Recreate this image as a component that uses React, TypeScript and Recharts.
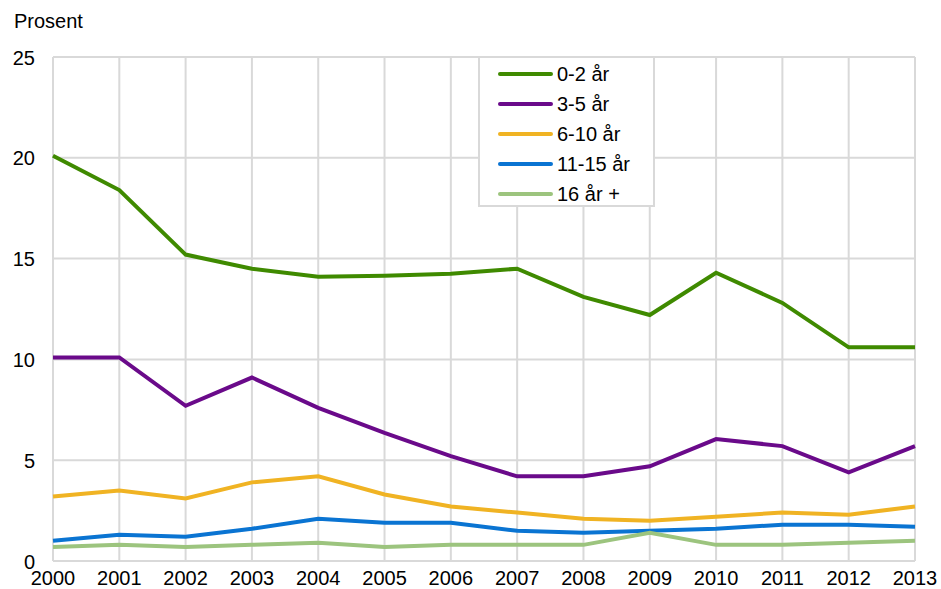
import { LineChart, Line, XAxis, YAxis, CartesianGrid, Legend } from 'recharts';

// ─── Data ───────────────────────────────────────────────────────────────────

const years = ['2000', '2001', '2002', '2003', '2004', '2005', '2006', '2007', '2008', '2009', '2010', '2011', '2012', '2013'];

const age0to2 = [20.1, 18.4, 15.2, 14.5, 14.1, 14.15, 14.25, 14.5, 13.1, 12.2, 14.3, 12.8, 10.6, 10.6];
const age3to5 = [10.1, 10.1, 7.7, 9.1, 7.6, 6.35, 5.2, 4.2, 4.2, 4.7, 6.05, 5.7, 4.4, 5.7];
const age6to10 = [3.2, 3.5, 3.1, 3.9, 4.2, 3.3, 2.7, 2.4, 2.1, 2.0, 2.2, 2.4, 2.3, 2.7];
const age11to15 = [1.0, 1.3, 1.2, 1.6, 2.1, 1.9, 1.9, 1.5, 1.4, 1.5, 1.6, 1.8, 1.8, 1.7];
const age16plus = [0.7, 0.8, 0.7, 0.8, 0.9, 0.7, 0.8, 0.8, 0.8, 1.4, 0.8, 0.8, 0.9, 1.0];

const yTicks = [0, 5, 10, 15, 20, 25];

const series = [
  { key: 'a', label: '0-2 år', color: '#3F8A00', values: age0to2 },
  { key: 'b', label: '3-5 år', color: '#6A0A8A', values: age3to5 },
  { key: 'c', label: '6-10 år', color: '#F0B323', values: age6to10 },
  { key: 'd', label: '11-15 år', color: '#0A74D2', values: age11to15 },
  { key: 'e', label: '16 år +', color: '#9CC47E', values: age16plus },
];

const data = years.map((year, i) => {
  const row: Record<string, string | number> = { year };
  series.forEach((s) => {
    row[s.key] = s.values[i];
  });
  return row;
});

const FONT = 'Arial, "Liberation Sans", Helvetica, sans-serif';

// ─── Ticks ──────────────────────────────────────────────────────────────────

function YTick({ y, payload }: { y?: number; payload?: { value: number } }) {
  return (
    <text x={35} y={(y ?? 0) + 7.5} textAnchor="end" fontSize={20} fill="#000" fontFamily={FONT}>
      {payload?.value}
    </text>
  );
}

function XTick({ x, payload }: { x?: number; payload?: { value: string } }) {
  return (
    <text x={x} y={585} textAnchor="middle" fontSize={20} fill="#000" fontFamily={FONT}>
      {payload?.value}
    </text>
  );
}

// ─── Legend box ─────────────────────────────────────────────────────────────

function LegendBox() {
  return (
    <div
      style={{
        width: 177,
        height: 151,
        background: '#fff',
        border: '2px solid #d9d9d9',
        boxSizing: 'border-box',
        fontFamily: FONT,
        fontSize: 20,
        paddingTop: 1,
      }}
    >
      {series.map((s) => (
        <div key={s.key} style={{ display: 'flex', alignItems: 'center', height: 30, paddingLeft: 18 }}>
          <span style={{ width: 55, height: 4, background: s.color, borderRadius: 2, marginRight: 4 }} />
          <span style={{ color: '#000' }}>{s.label}</span>
        </div>
      ))}
    </div>
  );
}

// ─── Chart ──────────────────────────────────────────────────────────────────

export default function App() {
  return (
    <div style={{ position: 'fixed', left: 0, top: 0, width: 941, height: 589, background: '#fff' }}>
      <div style={{ position: 'absolute', left: 14, top: 8, fontFamily: FONT, fontSize: 20, color: '#000', lineHeight: '26px' }}>
        Prosent
      </div>
      <LineChart width={941} height={589} data={data} margin={{ top: 57, right: 26, bottom: 0, left: 0 }}>
        <CartesianGrid stroke="#d9d9d9" strokeWidth={2} />
        <XAxis
          dataKey="year"
          tick={<XTick />}
          tickLine={false}
          axisLine={false}
          interval={0}
          height={28}
        />
        <YAxis
          domain={[0, 25]}
          ticks={yTicks}
          tick={<YTick />}
          tickLine={false}
          axisLine={false}
          width={53}
        />
        <Legend
          layout="vertical"
          align="center"
          verticalAlign="middle"
          content={() => <LegendBox />}
          wrapperStyle={{ left: 478, top: 56, width: 177, height: 151 }}
        />
        {series.map((s) => (
          <Line
            key={s.key}
            dataKey={s.key}
            name={s.label}
            type="linear"
            stroke={s.color}
            strokeWidth={4}
            dot={false}
            activeDot={false}
            isAnimationActive={false}
          />
        ))}
      </LineChart>
    </div>
  );
}
